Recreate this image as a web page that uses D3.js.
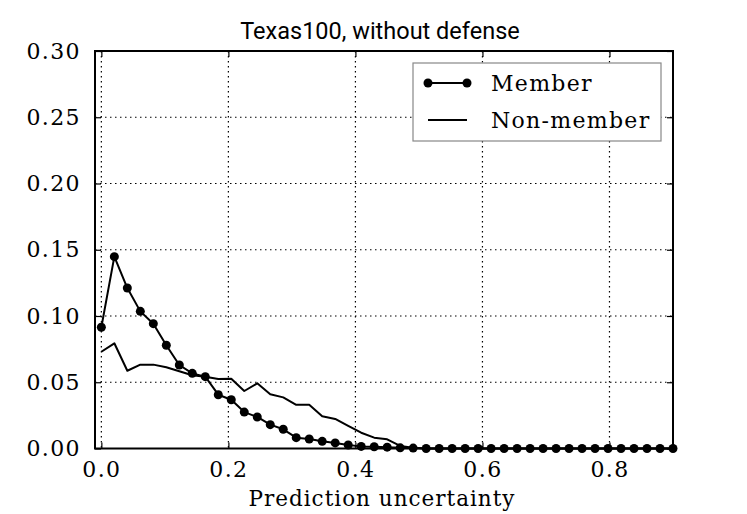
<!DOCTYPE html>
<html><head><meta charset="utf-8">
<script src="https://cdn.jsdelivr.net/npm/d3@7"></script>
<style>body{margin:0;background:#fff}</style>
</head><body>
<svg id="c" width="747" height="514"></svg>
<script>
// ---- data ----
const binCount = 45;           // bins over [0, 0.9]
const member = [0.0915,0.1448,0.1211,0.1035,0.0942,0.0779,0.0630,0.0567,0.0542,0.0406,
  0.0368,0.0275,0.0238,0.0180,0.0145,0.0082,0.0072,0.0054,0.0042,0.0026,
  0.0016,0.0013,0.0010,0.0005,0.0003,0,0,0,0,0,
  0,0,0,0,0,0,0,0,0,0,
  0,0,0,0,0];
const nonMember = [0.0730,0.0794,0.0587,0.0633,0.0633,0.0613,0.0583,0.0553,0.0542,0.0525,
  0.0527,0.0434,0.0492,0.0409,0.0386,0.0330,0.0330,0.0243,0.0223,0.0170,
  0.0119,0.0082,0.0069,0.0019,0.0005,0,0,0,0,0,
  0,0,0,0,0,0,0,0,0,0,
  0,0,0,0,0];
const xTicks = [0.0,0.2,0.4,0.6,0.8];
const yTicks = [0.00,0.05,0.10,0.15,0.20,0.25,0.30];
const seriesNames = ["Member","Non-member"];
const titleText = "Texas100, without defense";
const xLabelText = "Prediction uncertainty";

const xs = d3.range(binCount).map(i => i * 0.9 / (binCount - 1));

// ---- layout ----
const svg = d3.select("#c");
const L = 95, R = 673, T = 51, B = 448.5;
const x = d3.scaleLinear().domain([-0.01, 0.9]).range([L, R]);
const y = d3.scaleLinear().domain([0, 0.3]).range([B, T]);
const serif = "'DejaVu Serif', serif";

// grid
const g = svg.append("g");
g.selectAll(".gx").data(xTicks).join("line")
  .attr("x1", d => x(d)).attr("x2", d => x(d)).attr("y1", T).attr("y2", B)
  .attr("stroke", "#000").attr("stroke-width", 1.2).attr("stroke-dasharray", "1.5,3.5");
g.selectAll(".gy").data(yTicks).join("line")
  .attr("x1", L).attr("x2", R).attr("y1", d => y(d)).attr("y2", d => y(d))
  .attr("stroke", "#000").attr("stroke-width", 1.2).attr("stroke-dasharray", "1.5,3.5");

// lines
const line = d3.line().x((d, i) => x(xs[i])).y(d => y(d));
svg.append("path").datum(nonMember).attr("d", line)
  .attr("fill", "none").attr("stroke", "#000").attr("stroke-width", 2).attr("stroke-linejoin", "round");
svg.append("path").datum(member).attr("d", line)
  .attr("fill", "none").attr("stroke", "#000").attr("stroke-width", 2).attr("stroke-linejoin", "round");
svg.append("g").selectAll("circle").data(member).join("circle")
  .attr("cx", (d, i) => x(xs[i])).attr("cy", d => y(d)).attr("r", 4.5).attr("fill", "#000");

// axes (ticks inward, on all sides)
const tk = 6;
const ax = svg.append("g");
ax.append("g").attr("transform", `translate(0,${B})`)
  .call(d3.axisBottom(x).tickValues(xTicks).tickFormat(d3.format(".1f")).tickSizeInner(-tk).tickSizeOuter(0).tickPadding(13));
ax.append("g").attr("transform", `translate(0,${T})`)
  .call(d3.axisTop(x).tickValues(xTicks).tickFormat("").tickSizeInner(-tk).tickSizeOuter(0));
ax.append("g").attr("transform", `translate(${L},0)`)
  .call(d3.axisLeft(y).tickValues(yTicks).tickFormat(d3.format(".2f")).tickSizeInner(-tk).tickSizeOuter(0).tickPadding(14));
ax.append("g").attr("transform", `translate(${R},0)`)
  .call(d3.axisRight(y).tickValues(yTicks).tickFormat("").tickSizeInner(-tk).tickSizeOuter(0));
ax.selectAll(".domain").remove();
ax.selectAll(".tick line").attr("stroke", "#000").attr("stroke-width", 1.2);
ax.selectAll(".tick text").attr("font-family", serif).attr("font-size", 22)
  .attr("fill", "#000").style("letter-spacing", "1.4px");

// frame
svg.append("rect").attr("x", L).attr("y", T).attr("width", R - L).attr("height", B - T)
  .attr("fill", "none").attr("stroke", "#000").attr("stroke-width", 2);

// title + label
svg.append("text").attr("x", (L + R) / 2 - 4).attr("y", 39).attr("text-anchor", "middle")
  .attr("font-family", "Roboto, sans-serif").attr("font-size", 23.5).text(titleText);
svg.append("text").attr("x", (L + R) / 2 - 2).attr("y", 506).attr("text-anchor", "middle")
  .attr("font-family", serif).attr("font-size", 21.5).style("letter-spacing", "1px").text(xLabelText);

// legend
const lg = svg.append("g");
lg.append("rect").attr("x", 413).attr("y", 63).attr("width", 248).attr("height", 78)
  .attr("fill", "#fff").attr("stroke", "#888").attr("stroke-width", 1.2);
const rows = [83, 120];
seriesNames.forEach((name, i) => {
  lg.append("line").attr("x1", 428).attr("x2", 467).attr("y1", rows[i]).attr("y2", rows[i])
    .attr("stroke", "#000").attr("stroke-width", 2);
  if (i === 0) {
    [428, 467].forEach(cx => lg.append("circle").attr("cx", cx).attr("cy", rows[i]).attr("r", 4.5).attr("fill", "#000"));
  }
  lg.append("text").attr("x", 491).attr("y", rows[i]).attr("dy", "0.35em")
    .attr("font-family", serif).attr("font-size", 22).style("letter-spacing", "1.3px").text(name);
});
</script>
</body></html>
